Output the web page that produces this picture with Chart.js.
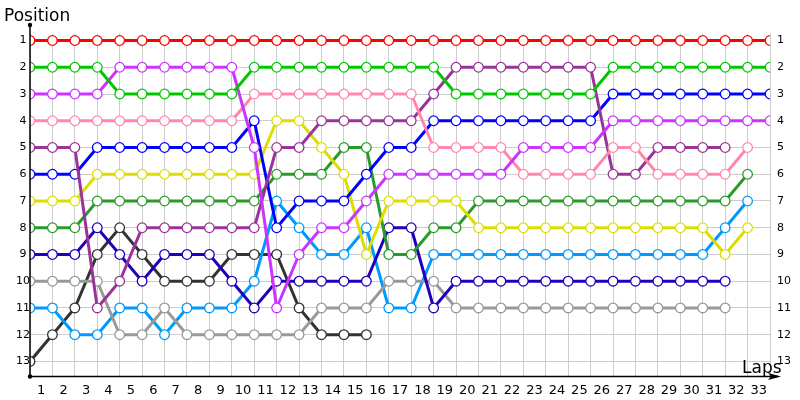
<!DOCTYPE html>
<html>
<head>
<meta charset="utf-8">
<script src="https://cdn.jsdelivr.net/npm/chart.js@4"></script>
<style>
  html, body { margin: 0; padding: 0; background: #fff; }
  #wrap { width: 800px; height: 400px; position: relative; }
</style>
</head>
<body>
<div id="wrap"><canvas id="lapChart"></canvas></div>
<script>
// Lap chart - positions per lap (index 0 = grid)
const lapLabels = ['1','2','3','4','5','6','7','8','9','10','11','12','13','14','15','16','17',
  '18','19','20','21','22','23','24','25','26','27','28','29','30','31','32','33'];
const positionTicks = [1,2,3,4,5,6,7,8,9,10,11,12,13];

const redPos    = [1,1,1,1,1,1,1,1,1,1,1,1,1,1,1,1,1,1,1,1,1,1,1,1,1,1,1,1,1,1,1,1,1,1];
const greenPos  = [2,2,2,2,3,3,3,3,3,3,2,2,2,2,2,2,2,2,2,3,3,3,3,3,3,3,2,2,2,2,2,2,2,2];
const violetPos = [3,3,3,3,2,2,2,2,2,2,5,11,9,8,8,7,6,6,6,6,6,6,5,5,5,5,4,4,4,4,4,4,4,4];
const pinkPos   = [4,4,4,4,4,4,4,4,4,4,3,3,3,3,3,3,3,3,5,5,5,5,6,6,6,6,5,5,6,6,6,6,5];
const purplePos = [5,5,5,11,10,8,8,8,8,8,8,5,5,4,4,4,4,4,3,2,2,2,2,2,2,2,6,6,5,5,5,5];
const bluePos   = [6,6,6,5,5,5,5,5,5,5,4,8,7,7,7,6,5,5,4,4,4,4,4,4,4,4,3,3,3,3,3,3,3,3];
const yellowPos = [7,7,7,6,6,6,6,6,6,6,6,4,4,5,6,9,7,7,7,7,8,8,8,8,8,8,8,8,8,8,8,9,8];
const dkGreenPos = [8,8,8,7,7,7,7,7,7,7,7,6,6,6,5,5,9,9,8,8,7,7,7,7,7,7,7,7,7,7,7,7,6];
const navyPos   = [9,9,9,8,9,10,9,9,9,10,11,10,10,10,10,10,8,8,11,10,10,10,10,10,10,10,10,10,10,10,10,10];
const grayPos   = [10,10,10,10,12,12,11,12,12,12,12,12,12,11,11,11,10,10,10,11,11,11,11,11,11,11,11,11,11,11,11,11];
const ltBluePos = [11,11,12,12,11,11,12,11,11,11,10,7,8,9,9,8,11,11,9,9,9,9,9,9,9,9,9,9,9,9,9,8,7];
const dkGrayPos = [13,12,11,9,8,9,10,10,10,9,9,9,11,12,12,12];

const series = [
  { name: 'Red',        color: '#ff0000', data: redPos },
  { name: 'Green',      color: '#00c800', data: greenPos },
  { name: 'Violet',     color: '#cc33ff', data: violetPos },
  { name: 'Pink',       color: '#ff88aa', data: pinkPos },
  { name: 'Purple',     color: '#993399', data: purplePos },
  { name: 'Blue',       color: '#0000ff', data: bluePos },
  { name: 'Yellow',     color: '#dddd00', data: yellowPos },
  { name: 'Dark green', color: '#2a9a2a', data: dkGreenPos },
  { name: 'Navy',       color: '#2200bb', data: navyPos },
  { name: 'Gray',       color: '#999999', data: grayPos },
  { name: 'Light blue', color: '#0099ff', data: ltBluePos },
  { name: 'Dark gray',  color: '#333333', data: dkGrayPos }
];

const FONT = 'Tahoma, "DejaVu Sans", sans-serif';

// axis lines, arrow and titles
const axisDecor = {
  id: 'axisDecor',
  afterDraw(chart) {
    const { ctx, chartArea } = chart;
    const left = chartArea.left, bottom = chartArea.bottom;
    ctx.save();
    ctx.strokeStyle = '#000';
    ctx.fillStyle = '#000';
    ctx.lineWidth = 1.5;
    ctx.beginPath();
    ctx.moveTo(left, 25);
    ctx.lineTo(left, bottom);
    ctx.lineTo(778, bottom);
    ctx.stroke();
    // arrow
    ctx.beginPath();
    ctx.moveTo(781, bottom);
    ctx.lineTo(768, bottom - 3.5);
    ctx.lineTo(771, bottom);
    ctx.lineTo(768, bottom + 3.5);
    ctx.closePath();
    ctx.fill();
    // dots
    ctx.beginPath(); ctx.arc(left, 25, 2.2, 0, Math.PI * 2); ctx.fill();
    ctx.beginPath(); ctx.arc(left, bottom, 2.2, 0, Math.PI * 2); ctx.fill();
    // titles
    ctx.font = '17px ' + FONT;
    ctx.textBaseline = 'alphabetic';
    ctx.textAlign = 'left';
    ctx.fillText('Position', 4, 21);
    ctx.fillText('Laps', 742, 373);
    ctx.restore();
  }
};

new Chart(document.getElementById('lapChart'), {
  type: 'line',
  data: {
    datasets: series.map(s => ({
      label: s.name,
      data: s.data.map((v, i) => ({ x: i, y: v })),
      borderColor: s.color,
      backgroundColor: '#ffffff',
      pointBackgroundColor: '#ffffff',
      pointBorderColor: s.color,
      pointBorderWidth: 1.3,
      pointRadius: 4.8,
      borderWidth: 3,
      tension: 0
    }))
  },
  options: {
    responsive: true,
    maintainAspectRatio: false,
    animation: false,
    layout: { padding: { top: 33.5, left: 0, right: 0, bottom: 0 } },
    plugins: { legend: { display: false }, tooltip: { enabled: false } },
    scales: {
      x: {
        type: 'linear', position: 'bottom', min: 0, max: 33,
        afterBuildTicks: ax => { ax.ticks = lapLabels.concat(['']).map((l, i) => ({ value: i })); },
        afterFit: ax => { ax.height = 0; },
        ticks: { display: false },
        grid: { color: '#cccccc', lineWidth: 1, drawTicks: false },
        border: { display: false }
      },
      xl: {
        type: 'linear', position: 'bottom', min: 0, max: 33,
        afterBuildTicks: ax => { ax.ticks = lapLabels.map((l, i) => ({ value: i + 0.5 })); },
        afterFit: ax => { ax.height = 23.5; },
        ticks: {
          autoSkip: false, maxRotation: 0, padding: 6, color: '#000',
          font: { family: FONT, size: 13 },
          callback: (v, i) => lapLabels[i]
        },
        grid: { display: false, drawTicks: false },
        border: { display: false }
      },
      y: {
        type: 'linear', position: 'left', reverse: true, min: 0.7375, max: 13.5625,
        afterBuildTicks: ax => { ax.ticks = positionTicks.map(v => ({ value: v })); },
        afterFit: ax => { ax.width = 30; },
        ticks: { color: '#000', crossAlign: 'center', padding: 0, font: { family: FONT, size: 11 } },
        grid: { color: '#cccccc', lineWidth: 1, drawTicks: false },
        border: { display: false }
      },
      yr: {
        type: 'linear', position: 'right', reverse: true, min: 0.7375, max: 13.5625,
        afterBuildTicks: ax => { ax.ticks = positionTicks.map(v => ({ value: v })); },
        afterFit: ax => { ax.width = 30; },
        ticks: { color: '#000', padding: 7, font: { family: FONT, size: 11 } },
        grid: { display: false, drawTicks: false },
        border: { display: false }
      }
    }
  },
  plugins: [axisDecor]
});
</script>
</body>
</html>
